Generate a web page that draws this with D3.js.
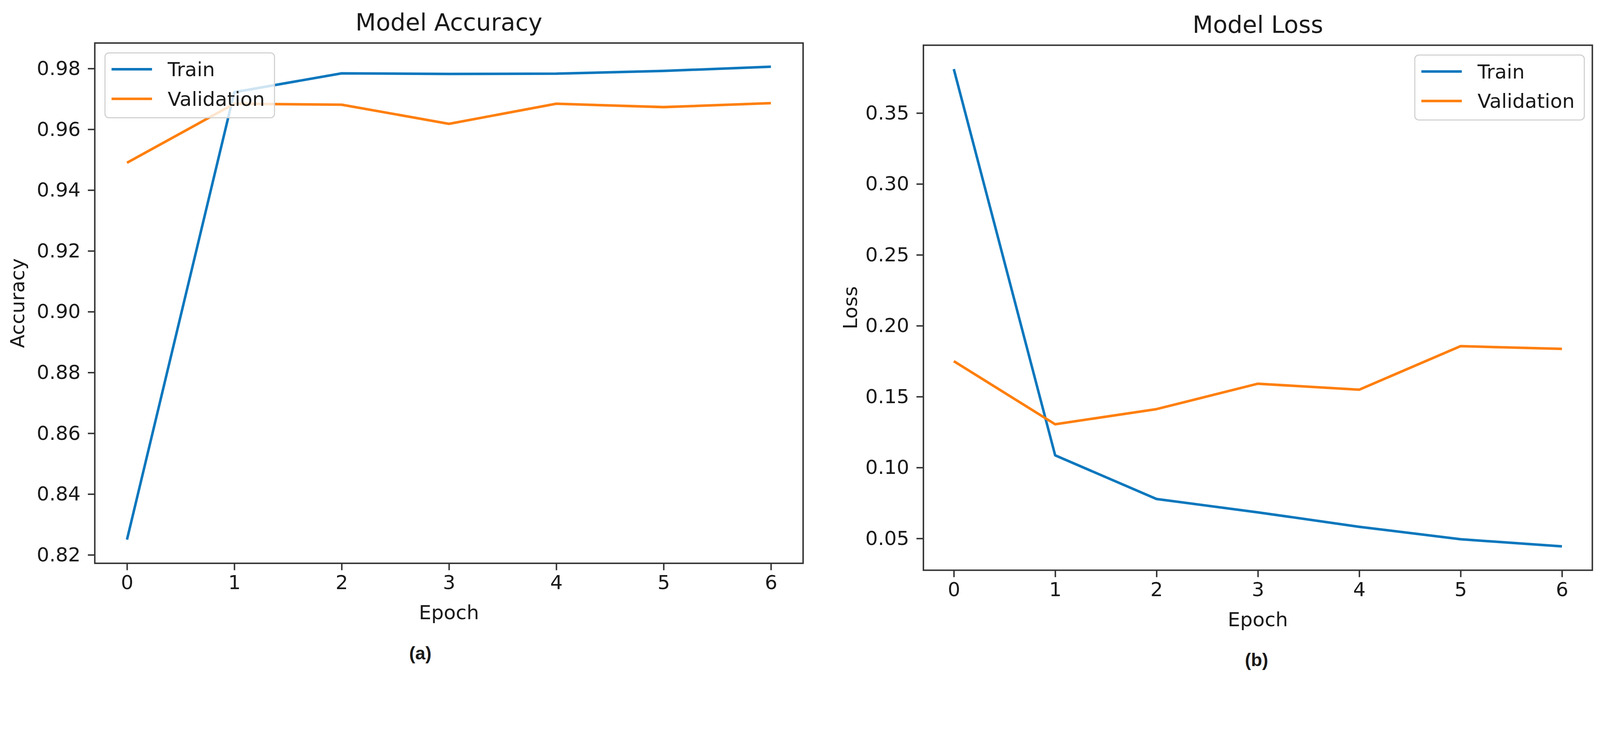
<!DOCTYPE html>
<html>
<head>
<meta charset="utf-8">
<script src="https://cdn.jsdelivr.net/npm/d3@7"></script>
<style>
  html, body { margin: 0; padding: 0; background: #fff; overflow: hidden; }
  svg { display: block; width: 100vw; height: calc(100vw * 1866 / 4389); }
  text { font-family: "DejaVu Sans", sans-serif; fill: #1a1a1a; }
</style>
</head>
<body>
<script>
const width = 4389;
const height = 1866;

// data
const epochs = [0, 1, 2, 3, 4, 5, 6];
const accTrain = [0.825, 0.9722, 0.9784, 0.9782, 0.9783, 0.9792, 0.9806];
const accVal = [0.949, 0.9684, 0.9681, 0.9618, 0.9684, 0.9673, 0.9686];
const lossTrain = [0.381, 0.1086, 0.0778, 0.0684, 0.0582, 0.0494, 0.0444];
const lossVal = [0.1750, 0.1305, 0.1412, 0.1591, 0.1549, 0.1856, 0.1837];
const accTicks = [0.82, 0.84, 0.86, 0.88, 0.90, 0.92, 0.94, 0.96, 0.98];
const lossTicks = [0.05, 0.10, 0.15, 0.20, 0.25, 0.30, 0.35];
const seriesNames = ["Train", "Validation"];
const colors = ["#0b77bd", "#ff7f0e"];

const fontTick = 54;
const tickLen = 19;

// viewBox keeps the drawing in proportion with the window width
const svg = d3.select("body").append("svg")
    .attr("viewBox", "0 0 " + width + " " + height);

svg.append("rect").attr("width", width).attr("height", height).attr("fill", "#fff");

function panel(o) {
    const g = svg.append("g");
    const all = o.series[0].concat(o.series[1]);
    const lo = d3.min(all), hi = d3.max(all);
    const pad = (hi - lo) * 0.05;

    const x = d3.scaleLinear().domain([-0.3, 6.3]).range([o.left, o.right]);
    const y = d3.scaleLinear().domain([lo - pad, hi + pad]).range([o.bottom, o.top]);

    // x axis
    const xAxis = d3.axisBottom(x).tickValues(epochs).tickFormat(d3.format("d"))
        .tickSize(tickLen).tickPadding(14);
    const gx = g.append("g").attr("transform", "translate(0," + o.bottom + ")").call(xAxis);
    // y axis
    const yAxis = d3.axisLeft(y).tickValues(o.ticks).tickFormat(d3.format(".2f"))
        .tickSize(tickLen).tickPadding(20);
    const gy = g.append("g").attr("transform", "translate(" + o.left + ",0)").call(yAxis);

    [gx, gy].forEach(function (a) {
        a.select(".domain").remove();
        a.selectAll(".tick line").attr("stroke", "#333").attr("stroke-width", 4);
        a.selectAll(".tick text").style("font-size", fontTick + "px").attr("fill", "#1a1a1a");
    });

    // lines
    const line = d3.line().x((d, i) => x(epochs[i])).y(d => y(d));
    o.series.forEach(function (s, k) {
        g.append("path")
            .datum(s)
            .attr("fill", "none")
            .attr("stroke", colors[k])
            .attr("stroke-width", 7)
            .attr("stroke-linejoin", "round")
            .attr("d", line);
    });

    // frame
    g.append("rect")
        .attr("x", o.left).attr("y", o.top)
        .attr("width", o.right - o.left).attr("height", o.bottom - o.top)
        .attr("fill", "none").attr("stroke", "#333").attr("stroke-width", 4);

    // legend
    const lw = 465, lh = 178;
    const lx = o.legendRight ? o.right - 22 - lw : o.left + 28;
    const ly = o.top + 27;
    const lg = g.append("g").attr("transform", "translate(" + lx + "," + ly + ")");
    lg.append("rect")
        .attr("width", lw).attr("height", lh).attr("rx", 11)
        .attr("fill", "#fff").attr("fill-opacity", 0.8)
        .attr("stroke", "#d0d0d0").attr("stroke-width", 3);
    seriesNames.forEach(function (nm, k) {
        const cy = 45 + k * 81;
        lg.append("line")
            .attr("x1", 18).attr("x2", 129).attr("y1", cy).attr("y2", cy)
            .attr("stroke", colors[k]).attr("stroke-width", 7);
        lg.append("text")
            .attr("x", 172).attr("y", cy).attr("dy", "0.35em")
            .style("font-size", fontTick + "px")
            .text(nm);
    });

    // titles and labels
    const cx = (o.left + o.right) / 2;
    g.append("text")
        .attr("x", cx).attr("y", o.top - 34)
        .attr("text-anchor", "middle")
        .style("font-size", "65px")
        .text(o.title);
    g.append("text")
        .attr("x", cx).attr("y", o.bottom + 135).attr("dy", "0.35em")
        .attr("text-anchor", "middle")
        .style("font-size", fontTick + "px")
        .text("Epoch");
    g.append("text")
        .attr("transform", "translate(" + o.ylabelX + "," + ((o.top + o.bottom) / 2) + ") rotate(-90)")
        .attr("text-anchor", "middle").attr("dy", "0.35em")
        .style("font-size", fontTick + "px")
        .text(o.ylabel);
    g.append("text")
        .attr("x", o.capX).attr("y", o.capY).attr("dy", "0.35em")
        .attr("text-anchor", "middle")
        .style("font-family", "'Liberation Sans', sans-serif")
        .style("font-weight", "bold")
        .style("font-size", "50px")
        .attr("fill", "#000")
        .text(o.caption);
}

panel({
    left: 260, right: 2203, top: 118, bottom: 1545,
    series: [accTrain, accVal], ticks: accTicks,
    title: "Model Accuracy", ylabel: "Accuracy", ylabelX: 48,
    legendRight: false, caption: "(a)", capX: 1153, capY: 1791
});

panel({
    left: 2533, right: 4368, top: 124, bottom: 1564,
    series: [lossTrain, lossVal], ticks: lossTicks,
    title: "Model Loss", ylabel: "Loss", ylabelX: 2332,
    legendRight: true, caption: "(b)", capX: 3447, capY: 1809
});
</script>
</body>
</html>
